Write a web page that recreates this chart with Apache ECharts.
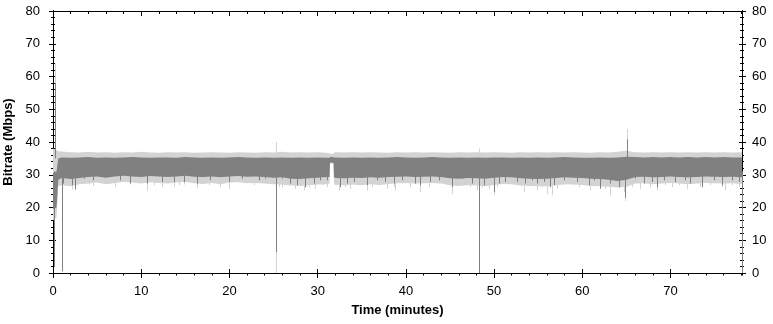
<!DOCTYPE html>
<html>
<head>
<meta charset="utf-8">
<script src="https://cdn.jsdelivr.net/npm/echarts@6/dist/echarts.min.js"></script>
<style>
  html, body { margin: 0; padding: 0; background: #fff; }
  #main { width: 773px; height: 324px; }
</style>
</head>
<body>
<div id="main"></div>
<script>
// time (minutes) of envelope samples
var tMin = [0, 0.4, 0.6, 1, 2, 3, 4, 5, 6, 7, 8, 9, 10, 11, 12, 13, 14, 15, 16, 17, 18, 19, 20,
  21, 22, 23, 24, 25, 26, 27, 28, 29, 30, 31, 31.35, 31.4, 31.8, 31.85, 32, 33, 34, 35, 36, 37, 38,
  39, 40, 41, 42, 43, 44, 45, 46, 47, 48, 49, 50, 51, 52, 53, 54, 55, 56, 57, 58, 59, 60, 61, 62,
  63, 64, 65, 66, 67, 68, 69, 70, 71, 72, 73, 74, 75, 76, 77, 78, 78.1];
// peak bitrate envelope (light grey) and average envelope (dark grey), Mbps
var lightHi = [38, 37.5, 37.2, 37.1, 36.9, 36.8, 37.0, 36.8, 36.9, 36.7, 36.9, 36.8, 37.0, 36.8, 36.7, 36.9, 36.8, 36.9, 36.7, 36.8, 36.9, 36.8, 36.7,
  36.9, 36.8, 36.7, 36.9, 36.8, 37.0, 36.8, 36.9, 36.8, 36.9, 36.7, 36.6, 36.4, 36.4, 36.7, 36.9, 36.8, 36.9, 36.8, 36.9, 36.8, 36.7,
  36.9, 36.8, 36.9, 36.8, 36.9, 36.8, 36.7, 36.9, 36.8, 36.9, 36.8, 36.9, 36.8, 36.7, 36.9, 36.8, 36.9, 36.8, 36.9, 36.8, 36.9, 36.8, 36.7, 36.9,
  36.8, 37.0, 37.3, 36.9, 36.8, 36.9, 36.8, 36.9, 36.8, 36.9, 36.8, 36.9, 36.8, 36.9, 36.8, 36.9, 36.8];
var darkHi = [30.5, 31, 35, 35.3, 35.2, 35.3, 35.4, 35.2, 35.3, 35.2, 35.3, 35.4, 35.3, 35.2, 35.3, 35.3, 35.2, 35.4, 35.3, 35.2, 35.3, 35.2, 35.3,
  35.4, 35.3, 35.2, 35.3, 35.2, 35.3, 35.2, 35.3, 35.2, 35.3, 35.2, 35.2, 35.4, 35.4, 35.2, 35.3, 35.2, 35.3, 35.2, 35.3, 35.2, 35.3,
  35.4, 35.3, 35.2, 35.3, 35.4, 35.3, 35.2, 35.3, 35.2, 35.3, 35.2, 35.3, 35.3, 35.2, 35.3, 35.2, 35.3, 35.2, 35.3, 35.4, 35.3, 35.2, 35.2, 35.3,
  35.2, 35.3, 35.5, 35.4, 35.3, 35.4, 35.3, 35.4, 35.3, 35.4, 35.3, 35.4, 35.3, 35.4, 35.3, 35.3, 35.2];
var darkLo = [19.5, 20, 28.5, 29.0, 28.7, 29.0, 29.3, 29.5, 29.1, 29.5, 29.7, 29.5, 29.3, 29.6, 29.5, 29.3, 29.5, 29.7, 29.4, 29.3, 29.5, 29.2, 29.5,
  29.6, 29.4, 29.5, 29.3, 29.1, 29.2, 28.8, 28.7, 28.9, 29.1, 29.3, 29.3, 33.7, 33.7, 29.3, 29.0, 28.9, 29.1, 29.0, 29.2, 29.1, 29.3,
  29.4, 29.5, 29.3, 29.4, 29.5, 29.3, 28.9, 28.8, 29.0, 28.9, 28.8, 29.1, 29.3, 29.2, 28.9, 28.8, 28.7, 28.8, 29.0, 29.2, 29.1, 29.0, 28.8, 28.7,
  28.5, 28.1, 28.5, 29.3, 29.4, 29.2, 29.3, 29.5, 29.3, 29.2, 29.3, 29.5, 29.4, 29.3, 29.4, 29.2, 29.3];
var lightLo = [16, 17, 26.5, 26.8, 26.5, 27.1, 27.3, 27.6, 27.1, 27.5, 27.8, 27.6, 27.3, 27.7, 27.5, 27.3, 27.6, 27.8, 27.4, 27.2, 27.5, 27.1, 27.6,
  27.7, 27.4, 27.5, 27.3, 27.1, 27.0, 26.7, 26.6, 26.8, 27.0, 27.1, 27.3, 33.4, 33.4, 27.3, 26.9, 26.8, 27.0, 26.8, 27.1, 26.9, 27.2,
  27.4, 27.5, 27.3, 27.4, 27.5, 27.3, 26.8, 26.6, 26.8, 26.7, 26.5, 26.9, 27.2, 27.1, 26.7, 26.6, 26.5, 26.5, 26.8, 27.1, 27.0, 26.9, 26.6, 26.5,
  26.3, 26.1, 26.3, 27.3, 27.4, 27.1, 27.3, 27.5, 27.3, 27.1, 27.3, 27.5, 27.4, 27.3, 27.4, 27.2, 27.3];

// single-sample spikes [time, Mbps]
var lightDips = [[0.15, 3], [1.19, 27.3], [2.14, 25.5], [2.51, 26.2], [4.03, 27.0], [4.59, 26.5], [5.35, 28.3], [5.92, 27.3], [7.05, 26.2],
  [7.62, 27.8], [8.18, 28.3], [8.75, 27.0], [10.64, 25.2], [11.4, 26.8], [12.34, 26.2], [12.72, 27.8],
  [13.66, 26.2], [14.23, 26.8], [14.8, 27.0], [16.31, 25.9], [16.88, 27.3], [17.63, 26.8], [18.96, 26.2], [19.9, 25.7],
  [21.41, 27.8], [22.74, 26.8], [24.06, 27.3], [25.3, 0], [25.57, 26.2], [26.14, 26.8],
  [25.95, 26.2], [26.52, 27.3], [27.46, 25.7], [28.41, 25.2], [28.97, 26.2], [29.73, 25.7], [30.48, 26.8], [31.05, 26.2],
  [32.37, 25.2], [33.13, 26.2], [33.7, 25.7], [34.45, 26.8], [35.59, 25.2], [36.15, 26.2], [36.72, 26.8], [37.85, 25.7], [38.61, 26.2],
  [38.8, 25.2], [39.56, 27.3], [40.5, 26.2], [41.63, 24.7], [42.58, 26.2], [43.71, 27.3], [44.66, 27.3], [45.22, 24.2], [45.98, 26.8],
  [47.3, 26.2], [48.06, 25.2], [48.63, 26.2], [49.38, 25.7], [49.95, 23.7], [50.33, 26.2], [51.27, 27.3], [52.03, 28.3],
  [52.6, 26.8], [53.35, 24.7], [54.11, 27.3], [54.86, 25.2], [55.43, 26.2], [56.0, 24.2], [56.56, 23.7], [57.13, 25.7], [57.89, 26.8],
  [58.83, 27.3], [59.59, 26.2], [60.91, 25.2], [61.48, 27.3], [62.04, 26.2], [62.61, 25.7], [63.18, 23.7], [63.74, 26.2], [64.69, 24.7],
  [64.85, 22.0], [65.64, 26.2], [66.58, 25.7], [67.71, 26.2], [68.47, 25.2], [69.42, 26.8], [70.17, 26.2], [70.93, 26.8], [71.87, 25.7],
  [72.44, 27.3], [73.38, 26.2], [74.52, 26.8], [74.9, 27.8], [75.84, 26.2], [76.22, 25.2], [76.97, 26.8], [77.73, 26.2]];
var darkDips = [[0.1, 1.8], [1.05, 0.5], [1.19, 27.3], [2.14, 26.8], [2.5, 25.5], [3.46, 28.8], [4.59, 28.3], [7.62, 28.3], [8.75, 27.3],
  [10.64, 27.3], [12.34, 27.8], [13.66, 27.8], [14.8, 27.8], [16.31, 27.3], [17.82, 28.3], [19.9, 27.8], [21.41, 28.8], [23.3, 28.3],
  [24.06, 28.8], [25.3, 6.4], [25.95, 28.8], [26.9, 27.3], [27.65, 26.8], [28.6, 26.2], [29.54, 27.3], [30.3, 28.3], [31.05, 28.3],
  [32.56, 26.2], [33.32, 27.3], [34.07, 27.8], [35.59, 26.8], [36.72, 28.3], [37.66, 27.8], [38.61, 27.3], [39.56, 28.3], [41.07, 27.3],
  [41.63, 26.8], [42.77, 27.8], [43.71, 28.3], [45.22, 26.2], [46.36, 28.8], [47.49, 27.3], [48.3, 0], [48.82, 26.8], [49.95, 24.7],
  [50.52, 27.3], [51.27, 27.8], [52.6, 27.8], [53.54, 27.3], [54.3, 28.3], [54.86, 27.3], [55.62, 27.8], [56.38, 26.2], [56.75, 26.8],
  [57.89, 28.3], [59.4, 27.8], [60.72, 26.8], [61.29, 28.3], [62.04, 25.7], [63.18, 27.3], [64.12, 26.2], [64.8, 23.0], [66.01, 28.8],
  [66.96, 27.3], [67.9, 27.8], [68.47, 26.2], [69.23, 28.3], [70.55, 27.8], [71.68, 28.3], [72.25, 27.3], [73.57, 26.2], [74.9, 28.3],
  [75.84, 26.8], [76.97, 28.3], [77.73, 27.8], [78.1, 0]];
var lightPeaks = [[0.25, 64], [25.3, 40], [48.3, 38], [65.07, 44]];
var darkPeaks = [[0.25, 58], [65.1, 40.8]];

var LIGHT = '#d3d3d3';
var DARK = '#808080';
var FONT = 'Liberation Sans, Arial, sans-serif';

function spikeSeries(list, from, color, z) {
  return {
    type: 'custom',
    z: z,
    silent: true,
    data: list.map(function (d) { return [d[0], from, d[1]]; }),
    encode: { x: 0, y: [1, 2] },
    renderItem: function (params, api) {
      var p0 = api.coord([api.value(0), api.value(1)]);
      var p1 = api.coord([api.value(0), api.value(2)]);
      var x = Math.round(p0[0]) + 0.5;
      return {
        type: 'line',
        shape: { x1: x, y1: p0[1], x2: x, y2: p1[1] },
        style: { stroke: color, lineWidth: 1 }
      };
    }
  };
}
// filled band between two envelopes, one polygon through the axis scales
function bandSeries(lo, hi, color, z) {
  return {
    type: 'custom',
    z: z,
    silent: true,
    data: [[tMin[0], lo[0], hi[0]]],
    encode: { x: 0, y: [1, 2] },
    renderItem: function (params, api) {
      var pts = [];
      for (var i = 0; i < tMin.length; i++) pts.push(api.coord([tMin[i], hi[i]]));
      for (var j = tMin.length - 1; j >= 0; j--) pts.push(api.coord([tMin[j], lo[j]]));
      return { type: 'polygon', shape: { points: pts }, style: { fill: color } };
    }
  };
}

var X_MAX = 78.1;
function xAx(pos, interval, tickLen, inside, labels) {
  return {
    type: 'value', position: pos, min: 0, max: X_MAX, interval: interval,
    axisLine: { show: true, onZero: false, lineStyle: { color: '#000', width: 1 } },
    axisTick: { show: true, inside: inside, length: tickLen, lineStyle: { color: '#000' } },
    axisLabel: labels ? { show: true, margin: 12, fontSize: 13, color: '#000', fontFamily: FONT, showMaxLabel: false } : { show: false },
    splitLine: { show: false }
  };
}
function yAx(pos, interval, tickLen, inside, labels, margin) {
  return {
    type: 'value', position: pos, min: 0, max: 80, interval: interval,
    axisLine: { show: true, onZero: false, lineStyle: { color: '#000', width: 1 } },
    axisTick: { show: true, inside: inside, length: tickLen, lineStyle: { color: '#000' } },
    axisLabel: labels ? { show: true, margin: margin, fontSize: 13, color: '#000', fontFamily: FONT } : { show: false },
    splitLine: { show: false }
  };
}

var xAxes = [
  xAx('bottom', 10, 5, false, true),
  xAx('bottom', 10, 4, true, false),
  xAx('bottom', 2, 2.5, false, false),
  xAx('top', 10, 5, true, false),
  xAx('top', 2, 3, true, false)
];
xAxes[0].name = 'Time (minutes)';
xAxes[0].nameLocation = 'middle';
xAxes[0].nameGap = 31;
xAxes[0].nameTextStyle = { fontSize: 13, fontWeight: 'bold', color: '#000', fontFamily: FONT };

var yAxes = [
  yAx('left', 10, 4, false, true, 13),
  yAx('left', 10, 3, true, false),
  yAx('left', 2, 2, false, false),
  yAx('left', 2, 2, true, false),
  yAx('right', 10, 4, false, true, 10),
  yAx('right', 10, 3, true, false),
  yAx('right', 2, 2, false, false),
  yAx('right', 2, 2, true, false)
];
yAxes[0].name = 'Bitrate (Mbps)';
yAxes[0].nameLocation = 'middle';
yAxes[0].nameGap = 38;
yAxes[0].nameTextStyle = { fontSize: 13, fontWeight: 'bold', color: '#000', fontFamily: FONT };

var chart = echarts.init(document.getElementById('main'), null, { renderer: 'canvas' });
chart.setOption({
  animation: false,
  backgroundColor: '#fff',
  grid: { left: 53, right: 31, top: 11, bottom: 51, outerBoundsMode: 'none' },
  xAxis: xAxes,
  yAxis: yAxes,
  series: [
    spikeSeries(lightPeaks, 35.5, LIGHT, 1),
    bandSeries(lightLo, lightHi, LIGHT, 2),
    spikeSeries(lightDips, 28, LIGHT, 2),
    bandSeries(darkLo, darkHi, DARK, 3),
    spikeSeries(darkDips, 31, DARK, 4),
    spikeSeries(darkPeaks, 35, DARK, 4)
  ]
});
</script>
</body>
</html>
